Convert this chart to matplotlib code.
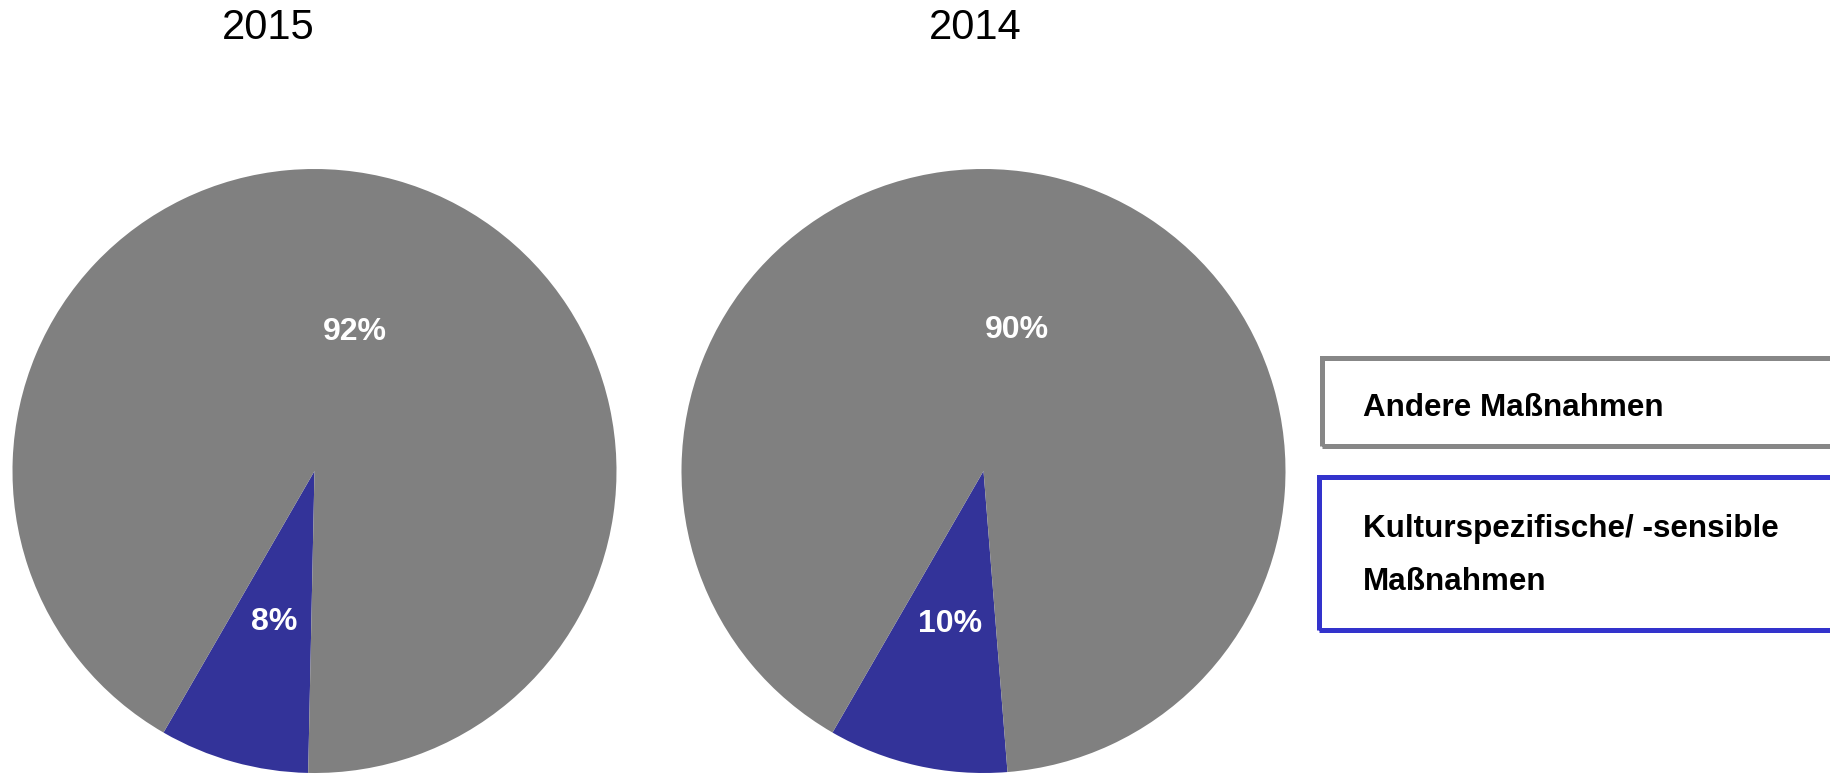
import matplotlib.pyplot as plt
from matplotlib.patches import Rectangle

plt.rcParams['font.family'] = ['Liberation Sans', 'DejaVu Sans']

years = ['2015', '2014']
categories = ['Kulturspezifische/ -sensible\nMaßnahmen', 'Andere Maßnahmen']
values_2015 = [8, 92]
values_2014 = [9.6, 90.4]
colors = ['#333399', '#808080']

W, H = 1831, 778
fig = plt.figure(figsize=(W / 100, H / 100), dpi=100)


def draw_pie(cx, values, title, title_x):
    r = 302
    cy = 471
    ax = fig.add_axes([(cx - r) / W, (H - cy - r) / H, 2 * r / W, 2 * r / H])
    wedges, texts, autotexts = ax.pie(
        values, colors=colors, startangle=240, counterclock=True,
        autopct=lambda p: '{:.0f}%'.format(p), pctdistance=0.5,
        textprops=dict(color='white', fontsize=23, fontweight='bold'),
        wedgeprops=dict(linewidth=0))
    # nudge labels down a little, like the original
    for t in autotexts:
        x, y = t.get_position()
        t.set_position((x, y - 0.02))
    ax.set_xlim(-1, 1)
    ax.set_ylim(-1, 1)
    ax.set_aspect('equal')
    fig.text(title_x / W, 1 - 28 / H, title, fontsize=30, ha='center', va='center')


draw_pie(314.5, values_2015, years[0], 268)
draw_pie(983.5, values_2014, years[1], 975)

# legend boxes
fig.patches.append(Rectangle((1322 / W, 1 - 446 / H), 600 / W, 88 / H,
                             transform=fig.transFigure, fill=False,
                             edgecolor='#878787', linewidth=3.6))
fig.patches.append(Rectangle((1319 / W, 1 - 630 / H), 600 / W, 153 / H,
                             transform=fig.transFigure, fill=False,
                             edgecolor='#3333cc', linewidth=3.6))
fig.text(1363 / W, 1 - 408 / H, categories[1], fontsize=22.6, fontweight='bold',
         ha='left', va='center')
fig.text(1363 / W, 1 - 556 / H, categories[0], fontsize=22.6, fontweight='bold',
         ha='left', va='center', linespacing=2.0)

plt.savefig('out.png', dpi=100)
